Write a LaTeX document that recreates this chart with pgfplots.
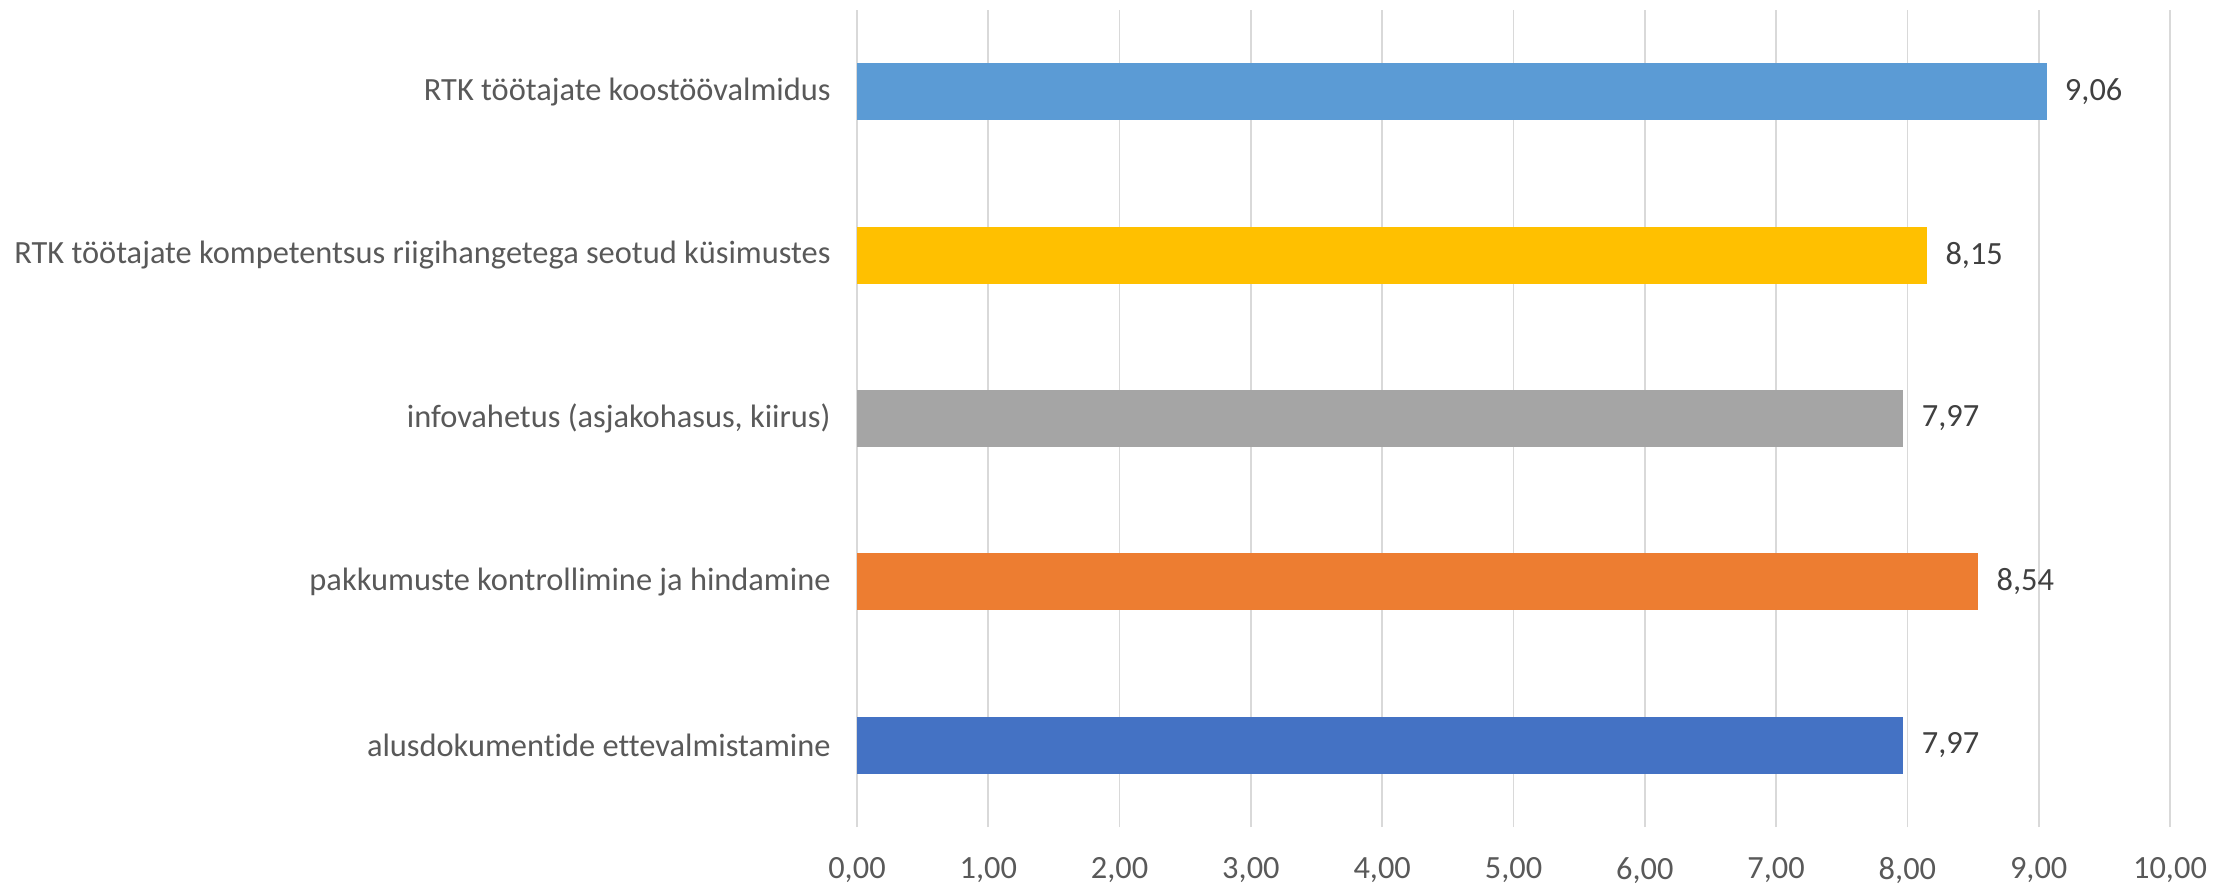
\documentclass[border=0pt]{standalone}
\usepackage{fontspec}
\setmainfont{Carlito}[Ligatures={NoCommon}]
\usepackage{pgfplots}
\pgfplotsset{compat=1.18}
\definecolor{c1}{HTML}{4472C4}
\definecolor{c2}{HTML}{ED7D31}
\definecolor{c3}{HTML}{A5A5A5}
\definecolor{c4}{HTML}{FFC000}
\definecolor{c5}{HTML}{5B9BD5}
\definecolor{lab}{HTML}{595959}
\definecolor{dlab}{HTML}{404040}
\definecolor{grd}{HTML}{D9D9D9}
\begin{document}
\begin{tikzpicture}
\path[use as bounding box] (-428.5pt,-29pt) rectangle (689.5pt,413.5pt);
\begin{axis}[
  at={(0,0)}, anchor=south west,
  scale only axis, width=656.5pt, height=408.5pt,
  xbar, bar width=28.5pt, bar shift=0pt,
  xmin=0, xmax=10, ymin=-0.5, ymax=4.5,
  xtick={0,1,...,10},
  ytick={0,1,2,3,4},
  yticklabels={alusdokumentide ettevalmistamine, pakkumuste kontrollimine ja hindamine, {infovahetus (asjakohasus, kiirus)}, RTK töötajate kompetentsus riigihangetega seotud küsimustes, RTK töötajate koostöövalmidus},
  axis line style={draw=none},
  major tick length=0pt,
  xmajorgrids, grid style={grd, line width=0.9pt},
  /pgf/number format/assume math mode=true,
  xticklabel={\pgfmathprintnumber[fixed,fixed zerofill,precision=2,use comma]{\tick}},
  xticklabel style={font=\fontsize{16.2}{19}\selectfont, text=lab, inner sep=0pt, yshift=-15pt},
  yticklabel style={font=\fontsize{16.2}{19}\selectfont, text=lab, inner sep=0pt, xshift=-13pt},
  point meta=x,
  nodes near coords={\pgfmathprintnumber[fixed,fixed zerofill,precision=2,use comma]{\pgfplotspointmeta}},
  nodes near coords style={font=\fontsize{16.2}{19}\selectfont, text=dlab, anchor=west, inner sep=0pt, xshift=9pt},
  clip=false,
]
\addplot[fill=c1, draw=none] coordinates {(7.97,0)};
\addplot[fill=c2, draw=none] coordinates {(8.54,1)};
\addplot[fill=c3, draw=none] coordinates {(7.97,2)};
\addplot[fill=c4, draw=none] coordinates {(8.15,3)};
\addplot[fill=c5, draw=none] coordinates {(9.06,4)};
\end{axis}
\end{tikzpicture}
\end{document}
